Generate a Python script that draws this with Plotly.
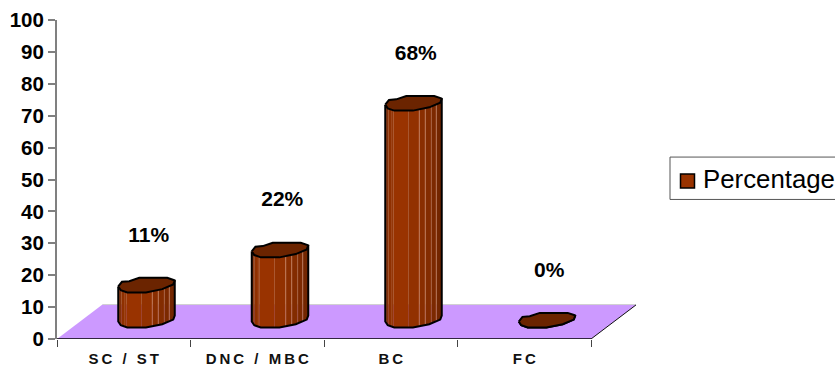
import numpy as np
import plotly.graph_objects as go

# Chart data
categories = ["SC / ST", "DNC / MBC", "BC", "FC"]
tick_labels = [
    "S\u2009C\u2009\u2009 /\u2009\u2009 S\u2009T",
    "D\u2009N\u2009C\u2009\u2009 /\u2009\u2009 M\u2009B\u2009C",
    "B\u2009C",
    "F\u2009C",
]
percentages = [11, 22, 68, 0]
y_ticks = list(range(0, 101, 10))
series_name = "Percentage"

# Plot scales: pixels per category and per percentage point
X_UNIT = 133.5
Y_UNIT = 3.2
FONT = "Liberation Sans"

# Pseudo-3D placement, in data units
BAR_SHIFT = 22.5 / X_UNIT
BAR_BASE = 11.5 / Y_UNIT
LABEL_SHIFT = 25 / X_UNIT
LABEL_GAP = 21.2
FLOOR_DEPTH_X = 45.5 / X_UNIT
FLOOR_DEPTH_Y = 10.8

# Irregular bar cross-section, (across, up) relative to the front of the bar
FRONT_EDGE = [(-28, 6), (-25.5, 2.3), (-19, 0), (-0.3, 0), (16, 3.3), (27, 8), (28.5, 12)]
BACK_EDGE = [(28, 12.3), (21, 14.7), (-7, 14.7), (-17, 11.3), (-24.3, 10.7)]

# Vertical shading bands on the side of each bar
BANDS = [
    (-28, -25, "#7d2900"), (-25, -20, "#8f3000"), (-20, -5, "#993300"),
    (-5, 6, "#923100"), (6, 12, "#892e00"), (12, 18, "#832c00"),
    (18, 23, "#7c2900"), (23, 28.5, "#732600"),
]
STREAKS_SOFT = [-26.5, -21.5, 18]
STREAKS_BRIGHT = [6, 12, 23]


def front_rise(dx):
    xs, ys = zip(*FRONT_EDGE)
    return np.interp(dx, xs, ys)


def joined(parts):
    """Join polygons into one coordinate list separated by gaps."""
    out = []
    for part in parts:
        out.extend(list(part) + [None])
    return out


def to_x(i, dx):
    return i + BAR_SHIFT + np.asarray(dx, dtype=float) / X_UNIT


def to_y(v, rise):
    return BAR_BASE + v + np.asarray(rise, dtype=float) / Y_UNIT


fig = go.Figure()


def polygons(xs, ys, fill=None, line=None, width=0):
    fig.add_trace(go.Scatter(
        x=joined(xs), y=joined(ys), mode="lines",
        fill="toself" if fill else "none", fillcolor=fill,
        line=dict(color=line or "rgba(0,0,0,0)", width=width),
        hoverinfo="skip", showlegend=False,
    ))


def segment(xs, ys, colour, width):
    fig.add_trace(go.Scatter(
        x=xs, y=ys, mode="lines", line=dict(width=width, color=colour),
        hoverinfo="skip", showlegend=False,
    ))


# Floor plane with its rear, side and front edges
fig.add_trace(go.Scatter(
    x=[-0.5, 3.5, 3.5 + FLOOR_DEPTH_X, -0.5 + FLOOR_DEPTH_X, -0.5],
    y=[0, 0, FLOOR_DEPTH_Y, FLOOR_DEPTH_Y, 0],
    mode="lines", fill="toself", fillcolor="#cc99ff",
    line=dict(width=0, color="#cc99ff"),
    hoverinfo="skip", showlegend=False,
))
segment([-0.5 + FLOOR_DEPTH_X, 3.5 + FLOOR_DEPTH_X], [FLOOR_DEPTH_Y, FLOOR_DEPTH_Y], "#d0d0d0", 1)
segment([3.5, 3.5 + FLOOR_DEPTH_X], [0, FLOOR_DEPTH_Y], "#111111", 1)
segment([-0.5, 3.5], [0, 0], "#000000", 1.5)

# Shaded side of each bar
for left, right, colour in BANDS:
    band_x, band_y = [], []
    for i, v in enumerate(percentages):
        dx = np.linspace(left, right, 6)
        rise = front_rise(dx)
        band_x.append(np.concatenate([to_x(i, dx), to_x(i, dx[::-1])]).tolist())
        band_y.append(np.concatenate([to_y(0, rise), to_y(v, rise[::-1])]).tolist())
    polygons(band_x, band_y, fill=colour)

# Pale vertical streaks on the bar sides
for offsets, colour in ((STREAKS_SOFT, "rgba(215,150,120,0.3)"), (STREAKS_BRIGHT, "rgba(215,150,120,0.6)")):
    streak_x, streak_y = [], []
    for i, v in enumerate(percentages):
        for dx in offsets:
            rise = front_rise(dx)
            streak_x.append(to_x(i, [dx, dx]).tolist())
            streak_y.append([float(to_y(0, rise)), float(to_y(v, rise))])
    polygons(streak_x, streak_y, line=colour, width=1)

# Outline of the side silhouette
front_dx = [p[0] for p in FRONT_EDGE]
front_up = [p[1] for p in FRONT_EDGE]
outline_x, outline_y = [], []
for i, v in enumerate(percentages):
    outline_x.append(to_x(i, [front_dx[0]] + front_dx + [front_dx[-1]]).tolist())
    outline_y.append(
        [float(to_y(v, front_up[0]))]
        + to_y(0, front_up).tolist()
        + [float(to_y(v, front_up[-1]))]
    )
polygons(outline_x, outline_y, line="#000000", width=2)

# Top face of each bar
top_dx = front_dx + [p[0] for p in BACK_EDGE] + [front_dx[0]]
top_up = front_up + [p[1] for p in BACK_EDGE] + [front_up[0]]
polygons(
    [to_x(i, top_dx).tolist() for i in range(len(percentages))],
    [to_y(v, top_up).tolist() for v in percentages],
    fill="#6b2400", line="#000000", width=2,
)

# Percentage labels above the bars
fig.add_trace(go.Scatter(
    x=[i + LABEL_SHIFT for i in range(len(categories))],
    y=[v + LABEL_GAP for v in percentages],
    mode="text", text=[f"{v}%" for v in percentages],
    textposition="middle center",
    textfont=dict(family=FONT, size=21, color="#000000", weight=700),
    hoverinfo="skip", showlegend=False,
))

# Legend entry; its key is drawn as a layout shape so it can sit clear of the frame
fig.add_trace(go.Scatter(
    x=[None], y=[None], mode="markers", name=series_name,
    marker=dict(symbol="square", size=14, color="rgba(0,0,0,0)", line=dict(width=0)),
    showlegend=True,
))

# The plot area runs out to the far corner of the floor
LEFT, RIGHT, TOP, BOTTOM = 57, 636, 19.5, 339.5
WIDTH, HEIGHT = 835, 368


def paper_x(px):
    return (px - LEFT) / (RIGHT - LEFT)


def paper_y(px):
    return (BOTTOM - px) / (BOTTOM - TOP)


fig.update_layout(
    width=WIDTH, height=HEIGHT,
    margin=dict(l=LEFT, r=WIDTH - RIGHT, t=TOP, b=HEIGHT - BOTTOM, pad=0, autoexpand=False),
    paper_bgcolor="#ffffff", plot_bgcolor="rgba(0,0,0,0)",
    font=dict(family=FONT, color="#000000"),
    xaxis=dict(
        range=[-0.5, -0.5 + (RIGHT - LEFT) / X_UNIT], tickmode="array",
        tickvals=list(range(len(categories))), ticktext=tick_labels,
        ticks="", showgrid=False, zeroline=False, showline=False,
        ticklabelstandoff=9,
        tickfont=dict(family=FONT, size=15, weight=700, color="#111111"),
        minor=dict(
            tickmode="array", tickvals=[-0.5, 0.5, 1.5, 2.5, 3.5],
            ticks="outside", ticklen=7, tickwidth=1, tickcolor="#444444",
            showgrid=False,
        ),
    ),
    yaxis=dict(
        range=[0, 100], tickmode="array", tickvals=y_ticks,
        ticks="outside", ticklen=7, tickwidth=2, tickcolor="#808080",
        showgrid=False, zeroline=False,
        showline=True, linecolor="#808080", linewidth=2,
        tickfont=dict(family=FONT, size=20.5, weight=700, color="#000000"),
    ),
    showlegend=True,
    legend=dict(
        xref="container", yref="container",
        x=663 / WIDTH, xanchor="left",
        y=1 - 178 / HEIGHT, yanchor="middle",
        bgcolor="rgba(0,0,0,0)", borderwidth=0,
        font=dict(family=FONT, size=25.8, color="#000000"),
    ),
    shapes=[
        dict(
            type="rect", xref="paper", yref="paper",
            x0=paper_x(670), x1=paper_x(836), y0=paper_y(199.5), y1=paper_y(157),
            line=dict(color="#555555", width=1), layer="below",
        ),
        dict(
            type="rect", xref="paper", yref="paper",
            x0=paper_x(680.5), x1=paper_x(694.5), y0=paper_y(188), y1=paper_y(174),
            fillcolor="#993300", line=dict(color="#000000", width=1.5),
        ),
    ],
)

fig.write_html("out.html")
